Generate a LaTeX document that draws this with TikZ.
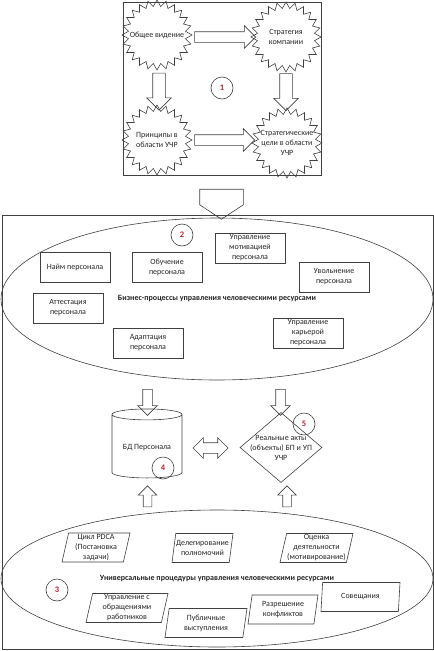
\documentclass[tikz,border=0pt]{standalone}
\usepackage{fontspec}
\setmainfont{Carlito}
\usetikzlibrary{shapes.geometric, shapes.arrows}
\definecolor{numred}{RGB}{190,30,45}
\definecolor{line}{RGB}{64,64,64}
\tikzset{
    every node/.style={font=\fontsize{8}{10}\selectfont, draw=line, text=black!85},
    every label/.style={draw=none, align=center},
    burst/.style={star, star points=24, star point ratio=1.22, minimum size=70, inner sep=0},
    proc/.style={rectangle, minimum width=70, minimum height=30, align=center, inner sep=1},
    proced/.style={trapezium, trapezium left angle=76, trapezium right angle=104,
        trapezium stretches body, minimum height=29, align=center, inner sep=0},
    num/.style={circle, minimum size=22, inner sep=0, text=numred, font=\fontsize{8.5}{10}\selectfont\bfseries},
    fatarrow/.style={single arrow, inner sep=5pt, single arrow head extend=6pt},
    smallarrow/.style={single arrow, inner sep=4.5pt, single arrow head extend=5pt}
}

\begin{document}
\begin{tikzpicture}[x=1pt, y=-1pt, line width=0.6pt]
	\useasboundingbox (0,0) rectangle (434,651);
	% strategy block
	\draw[line] (123,2) rectangle (321,175);
	\node (vid) [burst, label={center:Общее видение}] at (157,35) {};
	\node (str) [burst, label={center:Стратегия\\компании}] at (286,37) {};
	\node (pri) [burst, label={center:Принципы в\\области УЧР}] at (157,140) {};
	\node (cel) [burst, label={center:Стратегические\\цели в области\\УЧР}] at (287,143) {};
	\node (a1) [fatarrow, minimum height=61] at (222.5,37) {};
	\node (a2) [fatarrow, minimum height=60] at (222,140) {};
	\node (a3) [fatarrow, rotate=-90, inner sep=6pt, minimum height=37] at (159,88.5) {};
	\node (a4) [fatarrow, rotate=-90, inner sep=6pt, minimum height=37] at (286,89) {};
	\node (n1) [num] at (222,88) {1};

	\node (down) [single arrow, rotate=-90, inner xsep=0, inner ysep=21.5pt,
		single arrow head extend=0pt, single arrow tip angle=113, minimum height=30] at (221.5,197) {};

	% HR block
	\draw[line] (2,215) rectangle (433,649);
	\node (bp) [ellipse, minimum width=432, minimum height=162, font=\fontsize{8}{10}\selectfont\bfseries]
		at (217,299) {Бизнес-процессы управления человеческими ресурсами};
	\node (n2) [num] at (182,235) {2};
	\node (najm) [proc] at (75,267) {Найм персонала};
	\node (obuch) [proc] at (167,267) {Обучение\\персонала};
	\node (motiv) [proc] at (250,248) {Управление\\мотивацией\\персонала};
	\node (uvol) [proc] at (334,277) {Увольнение\\персонала};
	\node (attest) [proc] at (68,308) {Аттестация\\персонала};
	\node (adapt) [proc] at (148,343) {Адаптация\\персонала};
	\node (kar) [proc] at (308,333) {Управление\\карьерой\\персонала};

	\node (d1) [smallarrow, rotate=-90, minimum height=26] at (147.5,400) {};
	\node (d2) [smallarrow, rotate=-90, minimum height=26] at (280.5,400) {};

	\node (bd) [cylinder, shape border rotate=90, aspect=0.2, minimum width=70, minimum height=69]
		at (147,447.5) {БД Персонала};
	\node (n4) [num] at (163,468) {4};
	\node (both) [double arrow, inner sep=5pt, double arrow head extend=5pt, minimum height=35] at (210.5,448) {};
	\node (akty) [diamond, minimum width=82, minimum height=70, inner sep=0,
		label={center:Реальные акты\\(объекты) БП и УП\\УЧР}] at (281,447.5) {};
	\node (n5) [num] at (304,424) {5};

	\node (u1) [smallarrow, rotate=90, inner sep=4pt, minimum height=21] at (147.5,498.5) {};
	\node (u2) [smallarrow, rotate=90, inner sep=4pt, minimum height=21] at (287,498.5) {};

	\node (up) [ellipse, minimum width=432, minimum height=137, font=\fontsize{8}{10}\selectfont\bfseries]
		at (217,578.5) {Универсальные процедуры управления человеческими ресурсами};
	\node (n3) [num] at (57,590) {3};
	\node (pdca) [proced, minimum width=68] at (96,547.5) {Цикл PDCA\\(Постановка\\задачи)};
	\node (deleg) [proced, minimum width=61] at (202.5,548) {Делегирование\\полномочий};
	\node (ocen) [proced, minimum width=73] at (316.5,548) {Оценка\\деятельности\\(мотивирование)};
	\node (obr) [proced, minimum width=82] at (127,608) {Управление с\\обращениями\\работников};
	\node (publ) [proced, minimum width=82] at (206,623) {Публичные\\выступления};
	\node (konf) [proced, minimum width=70] at (283,609.5) {Разрешение\\конфликтов};
	\node (sov) [proced, minimum width=79] at (360.5,597) {Совещания};
\end{tikzpicture}
\end{document}
